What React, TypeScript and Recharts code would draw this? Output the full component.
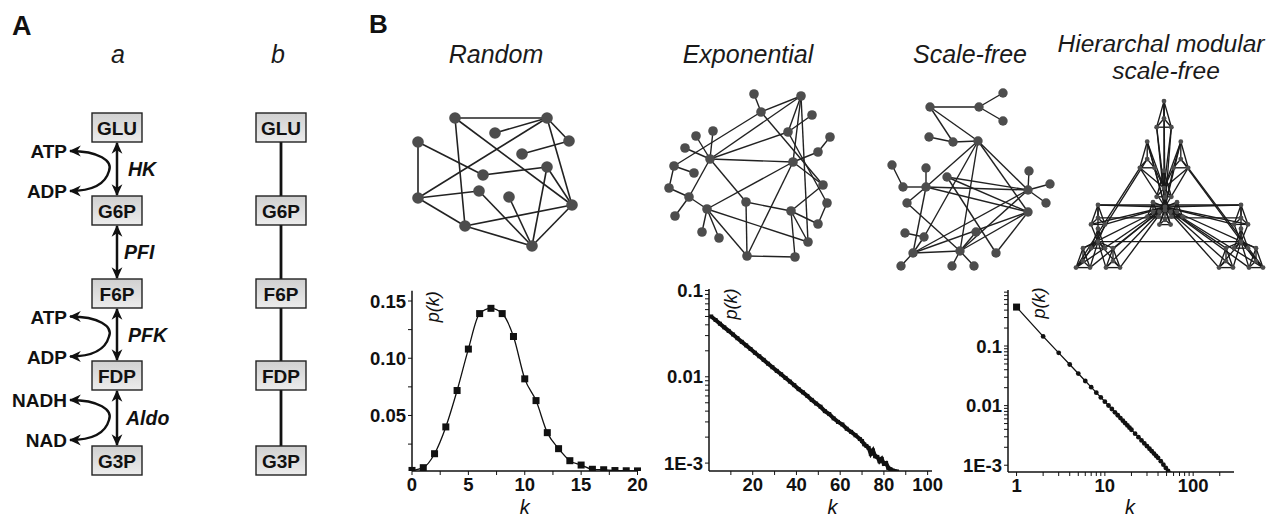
import React from "react";
import {
  LineChart,
  Line,
  XAxis,
  YAxis,
  ScatterChart,
  Scatter,
  ReferenceLine,
  Label,
} from "recharts";

const FONT = '"Liberation Sans", Arial, Helvetica, sans-serif';
const PAGE_W = 1278;
const PAGE_H = 518;

// ---------- degree distributions ----------
const randomK = [0, 1, 2, 3, 4, 5, 6, 7, 8, 9, 10, 11, 12, 13, 14, 15, 16, 17, 18, 19, 20];
const randomP = [
  0.002, 0.0044, 0.0166, 0.04, 0.0718, 0.108, 0.139, 0.1436, 0.139, 0.119, 0.082,
  0.063, 0.035, 0.021, 0.0105, 0.0067, 0.003, 0.0026, 0.0019, 0.0017, 0.0016,
];

const expK = [
  1, 3, 5, 7, 9, 11, 13, 15, 17, 19, 21, 23, 25, 27, 29, 31, 33, 35, 37, 39, 41, 43, 45, 47, 49,
  51, 53, 55, 57, 59, 61, 63, 65, 67, 69, 70, 71, 72, 73, 74, 75, 76, 77, 78, 79, 80, 81, 82, 83,
  84, 86,
];
const expP = [
  0.05, 0.0455, 0.0412, 0.0374, 0.034, 0.0309, 0.028, 0.0254, 0.0231, 0.021, 0.019, 0.0173,
  0.0157, 0.0142, 0.0129, 0.0117, 0.0107, 0.0097, 0.0088, 0.008, 0.0072, 0.0066, 0.006, 0.0054,
  0.0049, 0.0045, 0.004, 0.0037, 0.0033, 0.003, 0.0028, 0.0025, 0.0023, 0.0021, 0.0019, 0.0018,
  0.00165, 0.00158, 0.0015, 0.00128, 0.0014, 0.0012, 0.00118, 0.00105, 0.00112, 0.00098, 0.001,
  0.00088, 0.00085, 0.00082, 0.0008,
];

const sfK = [
  1, 2, 3, 4, 5, 6, 7, 8, 9, 10, 11, 12, 13, 14, 15, 16, 17, 18, 19, 20, 22, 24, 26, 28, 30, 32,
  34, 36, 38, 40, 43, 46, 49, 52, 55,
];
const sfP = [
  0.45, 0.145, 0.0768, 0.049, 0.0345, 0.0259, 0.0204, 0.0165, 0.01375, 0.01166, 0.01005, 0.00877,
  0.00773, 0.00689, 0.00618, 0.00559, 0.00508, 0.00465, 0.00427, 0.00394, 0.00339, 0.00296,
  0.00261, 0.00232, 0.00209, 0.00189, 0.00172, 0.00157, 0.00144, 0.00133, 0.00117, 0.00102,
  0.0009, 0.0008, 0.00072,
];

// ---------- ticks ----------
const randomXTicks = [0, 2.5, 5, 7.5, 10, 12.5, 15, 17.5, 20];
const randomXLabels = ["0", "", "5", "", "10", "", "15", "", "20"];
const randomYTicks = [0.025, 0.05, 0.075, 0.1, 0.125, 0.15];
const randomYLabels = ["", "0.05", "", "0.10", "", "0.15"];

const expXTicks = [10, 20, 30, 40, 50, 60, 70, 80, 90, 100];
const expXLabels = ["", "20", "", "40", "", "60", "", "80", "", "100"];
const logYTicks = [
  0.001, 0.002, 0.003, 0.004, 0.005, 0.006, 0.007, 0.008, 0.009, 0.01, 0.02, 0.03, 0.04, 0.05,
  0.06, 0.07, 0.08, 0.09, 0.1, 0.2, 0.3, 0.4, 0.5, 0.6, 0.7, 0.8,
];
const logYMajor: Record<string, string> = { "0.001": "1E-3", "0.01": "0.01", "0.1": "0.1" };
const sfXTicks = [1, 2, 3, 4, 5, 6, 7, 8, 9, 10, 20, 30, 40, 50, 60, 70, 80, 90, 100, 200];
const sfXMajor: Record<string, string> = { "1": "1", "10": "10", "100": "100" };

// ---------- network drawings (node positions in page pixels) ----------
const randomNodes = [
  { x: 455, y: 118 }, { x: 547, y: 118 }, { x: 495, y: 133 }, { x: 418, y: 142 },
  { x: 569, y: 141 }, { x: 522, y: 154 }, { x: 547, y: 167 }, { x: 483, y: 175 },
  { x: 418, y: 198 }, { x: 479, y: 191 }, { x: 509, y: 197 }, { x: 572, y: 205 },
  { x: 465, y: 226 }, { x: 532, y: 246 },
];
const randomEdges = [
  [0, 1], [0, 12], [0, 11], [2, 1], [1, 8], [1, 11], [1, 4], [3, 8], [3, 7], [7, 6],
  [5, 4], [8, 9], [8, 12], [9, 13], [10, 13], [6, 13], [6, 11], [12, 11], [12, 13], [13, 11],
];

const expNodes = [
  { x: 754, y: 94 }, { x: 801, y: 96 }, { x: 761, y: 112 }, { x: 812, y: 115 },
  { x: 788, y: 132 }, { x: 713, y: 131 }, { x: 696, y: 136 }, { x: 830, y: 137 },
  { x: 685, y: 148 }, { x: 818, y: 152 }, { x: 710, y: 159 }, { x: 793, y: 162 },
  { x: 674, y: 166 }, { x: 694, y: 173 }, { x: 669, y: 188 }, { x: 823, y: 185 },
  { x: 689, y: 197 }, { x: 746, y: 202 }, { x: 827, y: 203 }, { x: 707, y: 209 },
  { x: 791, y: 211 }, { x: 675, y: 216 }, { x: 818, y: 224 }, { x: 702, y: 232 },
  { x: 719, y: 238 }, { x: 808, y: 242 }, { x: 747, y: 256 }, { x: 795, y: 257 },
];
const expEdges = [
  [0, 2], [2, 1], [2, 12], [2, 15], [1, 10], [1, 4], [1, 11], [1, 25], [3, 4], [4, 10],
  [4, 18], [5, 10], [6, 10], [8, 10], [10, 11], [10, 17], [10, 16], [7, 9], [9, 11],
  [11, 19], [11, 26], [11, 15], [12, 13], [12, 14], [14, 16], [16, 21], [16, 19], [19, 23],
  [19, 24], [19, 26], [19, 25], [17, 26], [17, 20], [20, 15], [20, 22], [20, 25], [20, 27],
  [18, 22], [26, 27],
];

const sfNodes = [
  { x: 1003, y: 93 }, { x: 930, y: 107 }, { x: 979, y: 107 }, { x: 1003, y: 121 },
  { x: 929, y: 137 }, { x: 953, y: 142 }, { x: 978, y: 141 }, { x: 892, y: 165 },
  { x: 926, y: 168 }, { x: 947, y: 177 }, { x: 1029, y: 171 }, { x: 1050, y: 184 },
  { x: 903, y: 187 }, { x: 926, y: 187 }, { x: 1028, y: 190 }, { x: 907, y: 203 },
  { x: 1046, y: 203 }, { x: 1028, y: 212 }, { x: 905, y: 233 }, { x: 924, y: 237 },
  { x: 976, y: 232 }, { x: 913, y: 253 }, { x: 960, y: 251 }, { x: 996, y: 253 },
  { x: 901, y: 266 }, { x: 952, y: 266 }, { x: 974, y: 266 },
];
const sfEdges = [
  [1, 2], [2, 0], [2, 3], [1, 5], [1, 6], [4, 5], [5, 6], [6, 13], [6, 19], [6, 22],
  [6, 14], [6, 17], [7, 12], [12, 13], [8, 13], [13, 14], [9, 14], [9, 17], [13, 17],
  [13, 15], [13, 21], [10, 14], [11, 14], [14, 16], [14, 21], [14, 22], [15, 22], [9, 23],
  [18, 19], [21, 24], [21, 22], [21, 17], [22, 25], [22, 26], [22, 20], [22, 17], [23, 17],
  [19, 21],
];

// hierarchical modular network: a 4-node module (centre + 3) repeated on three levels
const hmsHub = { x: 1165, y: 207 };
const hmsModule = [{ dx: 0, dy: 0 }, { dx: 0, dy: -12 }, { dx: -7, dy: 6 }, { dx: 7, dy: 6 }];
const hmsUp = [{ dx: 0, dy: -4 }, { dx: 0, dy: -26 }, { dx: -15, dy: 14 }, { dx: 15, dy: 14 }];
const hmsTower = [{ dx: 0, dy: 18 }, { dx: 0, dy: -30 }, { dx: -16, dy: -2 }, { dx: 16, dy: -2 }];
const hmsCore = [{ dx: 0, dy: 0 }, { dx: 0, dy: 16 }, { dx: -15, dy: 6 }, { dx: 15, dy: 6 }];
const hmsCopies = [
  { dx: 0, dy: 0, sx: 0.8, sy: 0.8, layout: hmsCore },
  { dx: -1, dy: -45, sx: 1.05, sy: 1.45, layout: hmsTower },
  { dx: -67, dy: 39, sx: 1, sy: 1.08, layout: hmsUp },
  { dx: 76, dy: 39, sx: 1, sy: 1.08, layout: hmsUp },
];
// single links between copies: [copy, module, node, copy, module, node]
const hmsBridges = [
  [2, 1, 1, 3, 1, 1],
  [2, 1, 0, 3, 1, 0],
  [2, 0, 0, 3, 0, 0],
  [1, 2, 2, 2, 2, 2],
  [1, 2, 0, 2, 2, 0],
  [1, 3, 3, 3, 3, 3],
  [1, 3, 0, 3, 3, 0],
];

const hmsNodes: { x: number; y: number }[] = [];
hmsCopies.forEach((a) =>
  a.layout.forEach((b) =>
    hmsModule.forEach((c) =>
      hmsNodes.push({
        x: hmsHub.x + a.dx + (b.dx + c.dx) * a.sx,
        y: hmsHub.y + a.dy + (b.dy + c.dy) * a.sy,
      })
    )
  )
);
const hmsIdx = (i: number, j: number, m: number) => i * 16 + j * 4 + m;
const hmsEdges: number[][] = [];
for (let i = 0; i < 4; i++) {
  for (let j = 0; j < 4; j++) {
    for (let m = 0; m < 4; m++)
      for (let n = m + 1; n < 4; n++) hmsEdges.push([hmsIdx(i, j, m), hmsIdx(i, j, n)]);
    if (j > 0) for (let m = 1; m < 4; m++) hmsEdges.push([hmsIdx(i, j, m), hmsIdx(i, 0, 0)]);
  }
  if (i > 0)
    for (let j = 1; j < 4; j++)
      for (let m = 1; m < 4; m++) hmsEdges.push([hmsIdx(i, j, m), hmsIdx(0, 0, 0)]);
}
hmsBridges.forEach(([ia, ja, ma, ib, jb, mb]) => hmsEdges.push([hmsIdx(ia, ja, ma), hmsIdx(ib, jb, mb)]));

// ---------- pathway (panel A) ----------
const metabolites = ["GLU", "G6P", "F6P", "FDP", "G3P"];
const enzymes = ["HK", "PFI", "PFK", "Aldo"];
const cofactors: (string[] | null)[] = [["ATP", "ADP"], null, ["ATP", "ADP"], ["NADH", "NAD"]];

const randomRows = randomK.map((k, i) => ({ k, p: randomP[i] }));
const expRows = expK.map((k, i) => ({ k, p: expP[i] }));
const sfRows = sfK.map((k, i) => ({ k, p: sfP[i] }));

const tickStyle = { fontSize: 18.5, fontWeight: 700, fill: "#111", fontFamily: FONT };
const axisLine = { stroke: "#111", strokeWidth: 1.5 };
const tickLine = { stroke: "#111", strokeWidth: 1 };
const kLabel = { fontSize: 20, fontStyle: "italic", fontFamily: FONT, fill: "#111" };

const PkLabel = (props: any) => {
  const { viewBox, dx, dy } = props;
  if (!viewBox) return null;
  const x = viewBox.x + viewBox.width + dx;
  const y = viewBox.y + dy;
  return (
    <text
      x={x}
      y={y}
      transform={`rotate(-90 ${x} ${y})`}
      textAnchor="middle"
      dominantBaseline="central"
      fontStyle="italic"
      fontSize={18}
      fontFamily={FONT}
      fill="#111"
    >
      p(k)
    </text>
  );
};

const squareDot = (size: number) => (props: any) => {
  const { cx, cy, index } = props;
  if (cx == null || cy == null) return <g key={`s-${index}`} />;
  return (
    <rect key={`s-${index}`} x={cx - size / 2} y={cy - size / 2} width={size} height={size} fill="#111" />
  );
};

const sfDot = (props: any) => {
  const { cx, cy, index } = props;
  if (cx == null || cy == null) return <g key={`f-${index}`} />;
  if (index === 0)
    return <rect key={`f-${index}`} x={cx - 3.5} y={cy - 3.5} width={7} height={7} fill="#111" />;
  return <circle key={`f-${index}`} cx={cx} cy={cy} r={2.4} fill="#111" />;
};

function PathwayAndTitles() {
  const boxTop = [113, 196, 279, 361, 446];
  const boxH = 29;
  const boxW = 50;
  const colA = 92;
  const colB = 256;
  const enzymeX = [128, 124, 128, 126];
  const titleStyle = { fontSize: 25, fontStyle: "italic" as const, fill: "#1a1a1a", fontFamily: FONT };
  const bold = { fontWeight: 700, fontFamily: FONT, fill: "#111" };
  return (
    <svg width={PAGE_W} height={PAGE_H} style={{ position: "absolute", left: 0, top: 0 }}>
      <defs>
        <linearGradient id="boxFill" x1="0" y1="0" x2="0" y2="1">
          <stop offset="0" stopColor="#d0d0d0" />
          <stop offset="1" stopColor="#ececec" />
        </linearGradient>
        <marker
          id="head"
          viewBox="0 0 10 10"
          refX="9"
          refY="5"
          markerWidth="12"
          markerHeight="12"
          markerUnits="userSpaceOnUse"
          orient="auto-start-reverse"
        >
          <path d="M0,0.5 L10,5 L0,9.5 L3,5 z" fill="#111" />
        </marker>
      </defs>

      <text x={12} y={35} fontSize={27} {...bold}>A</text>
      <text x={369} y={33} fontSize={26} {...bold}>B</text>
      <text x={118} y={63} textAnchor="middle" {...titleStyle}>a</text>
      <text x={278} y={63} textAnchor="middle" {...titleStyle}>b</text>

      <text x={496} y={63} textAnchor="middle" {...titleStyle}>Random</text>
      <text x={748} y={63} textAnchor="middle" {...titleStyle}>Exponential</text>
      <text x={970} y={63} textAnchor="middle" {...titleStyle}>Scale-free</text>
      <text x={1161} y={52} textAnchor="middle" {...titleStyle} fontSize={24.5}>Hierarchal modular</text>
      <text x={1166} y={79} textAnchor="middle" {...titleStyle} fontSize={24.5}>scale-free</text>

      {/* column b: plain links */}
      {boxTop.slice(0, -1).map((t, i) => (
        <line key={`bl${i}`} x1={colB + boxW / 2} x2={colB + boxW / 2} y1={t + boxH} y2={boxTop[i + 1]} stroke="#111" strokeWidth={2.8} />
      ))}

      {/* column a: reversible reactions */}
      {enzymes.map((e, i) => {
        const y1 = boxTop[i] + boxH;
        const y2 = boxTop[i + 1];
        const mid = (y1 + y2) / 2;
        const co = cofactors[i];
        const top = mid - 18;
        const bot = mid + 22;
        return (
          <g key={e}>
            <line x1={colA + boxW / 2} x2={colA + boxW / 2} y1={y1 + 1} y2={y2 - 1} stroke="#111" strokeWidth={2.5} markerStart="url(#head)" markerEnd="url(#head)" />
            <text x={enzymeX[i]} y={mid + 7} fontSize={19.5} fontStyle="italic" {...bold}>{e}</text>
            {co && (
              <g>
                <path
                  d={`M 70 ${top} C 99 ${top}, 113 ${mid - 8}, 109 ${mid + 2} C 106 ${mid + 13}, 95 ${bot}, 70 ${bot}`}
                  fill="none"
                  stroke="#111"
                  strokeWidth={2.4}
                  markerStart="url(#head)"
                  markerEnd="url(#head)"
                />
                <text x={67} y={top + 7} textAnchor="end" fontSize={19} {...bold}>{co[0]}</text>
                <text x={67} y={bot + 7} textAnchor="end" fontSize={19} {...bold}>{co[1]}</text>
              </g>
            )}
          </g>
        );
      })}

      {[colA, colB].map((cx) =>
        metabolites.map((m, i) => (
          <g key={`${cx}-${m}`}>
            <rect x={cx} y={boxTop[i]} width={boxW} height={boxH} fill="url(#boxFill)" stroke="#222" strokeWidth={1.4} />
            <text x={cx + boxW / 2} y={boxTop[i] + boxH / 2 + 7} textAnchor="middle" fontSize={19} {...bold}>{m}</text>
          </g>
        ))
      )}
    </svg>
  );
}

function Networks() {
  const edgeLines = (
    nodes: { x: number; y: number }[],
    edges: number[][],
    prefix: string,
    width: number,
    color: string
  ) =>
    edges.map(([a, b], i) => (
      <ReferenceLine
        key={`${prefix}${i}`}
        segment={[
          { x: nodes[a].x, y: nodes[a].y },
          { x: nodes[b].x, y: nodes[b].y },
        ]}
        stroke={color}
        strokeWidth={width}
        ifOverflow="visible"
      />
    ));
  const dot = (r: number, fill: string) => (p: any) => <circle cx={p.cx} cy={p.cy} r={r} fill={fill} />;
  return (
    <div style={{ position: "absolute", left: 0, top: 0 }}>
      <ScatterChart width={PAGE_W} height={PAGE_H} margin={{ top: 0, right: 0, bottom: 0, left: 0 }}>
        <XAxis type="number" dataKey="x" domain={[0, PAGE_W]} hide />
        <YAxis type="number" dataKey="y" domain={[0, PAGE_H]} reversed hide />
        {edgeLines(randomNodes, randomEdges, "r", 1.6, "#222")}
        {edgeLines(expNodes, expEdges, "e", 1.4, "#222")}
        {edgeLines(sfNodes, sfEdges, "s", 1.4, "#222")}
        {edgeLines(hmsNodes, hmsEdges, "h", 1.35, "#1a1a1a")}
        <Scatter data={randomNodes} shape={dot(5.8, "#4d4d4d")} isAnimationActive={false} />
        <Scatter data={expNodes} shape={dot(4.8, "#4d4d4d")} isAnimationActive={false} />
        <Scatter data={sfNodes} shape={dot(4.7, "#4d4d4d")} isAnimationActive={false} />
        <Scatter data={hmsNodes} shape={dot(2.4, "#4d4d4d")} isAnimationActive={false} />
      </ScatterChart>
    </div>
  );
}

function RandomChart() {
  return (
    <div style={{ position: "absolute", left: 340, top: 280 }}>
      <LineChart width={310} height={238} data={randomRows} margin={{ top: 10.7, right: 12.5, bottom: 0, left: 0 }}>
        <XAxis
          dataKey="k"
          type="number"
          domain={[0, 20]}
          ticks={randomXTicks}
          interval={0}
          tickFormatter={(v: number) => randomXLabels[randomXTicks.indexOf(v)] ?? ""}
          height={47}
          tickSize={4}
          tickMargin={3}
          tick={tickStyle}
          axisLine={axisLine}
          tickLine={tickLine}
        >
          <Label value="k" position="insideBottom" offset={4} {...kLabel} />
        </XAxis>
        <YAxis
          type="number"
          domain={[0.0015, 0.159]}
          allowDataOverflow
          ticks={randomYTicks}
          interval={0}
          tickFormatter={(v: number) => randomYLabels[randomYTicks.indexOf(v)] ?? ""}
          width={72}
          tickSize={4}
          tickMargin={2}
          tick={tickStyle}
          axisLine={axisLine}
          tickLine={tickLine}
        >
          <Label content={<PkLabel dx={21} dy={16} />} />
        </YAxis>
        <Line dataKey="p" type="monotone" stroke="#111" strokeWidth={1.3} dot={squareDot(7)} isAnimationActive={false} />
      </LineChart>
    </div>
  );
}

function ExponentialChart() {
  return (
    <div style={{ position: "absolute", left: 640, top: 280 }}>
      <LineChart width={330} height={238} data={expRows} margin={{ top: 9, right: 38, bottom: 0, left: 0 }}>
        <XAxis
          dataKey="k"
          type="number"
          domain={[0, 102]}
          ticks={expXTicks}
          interval={0}
          tickFormatter={(v: number) => expXLabels[expXTicks.indexOf(v)] ?? ""}
          height={47}
          tickSize={4}
          tickMargin={3}
          tick={tickStyle}
          axisLine={axisLine}
          tickLine={tickLine}
        >
          <Label value="k" position="insideBottom" offset={4} dx={12} {...kLabel} />
        </XAxis>
        <YAxis
          type="number"
          scale="log"
          domain={[0.00081, 0.104]}
          allowDataOverflow
          ticks={logYTicks.filter((t) => t <= 0.1)}
          interval={0}
          tickFormatter={(v: number) => logYMajor[String(v)] ?? ""}
          width={69}
          tickSize={4}
          tickMargin={2}
          tick={tickStyle}
          axisLine={axisLine}
          tickLine={tickLine}
        >
          <Label content={<PkLabel dx={22} dy={15} />} />
        </YAxis>
        <Line dataKey="p" type="linear" stroke="#111" strokeWidth={4} dot={squareDot(4)} isAnimationActive={false} />
      </LineChart>
    </div>
  );
}

function ScaleFreeChart() {
  return (
    <div style={{ position: "absolute", left: 940, top: 280 }}>
      <LineChart width={338} height={238} data={sfRows} margin={{ top: 10, right: 44, bottom: 0, left: 0 }}>
        <XAxis
          dataKey="k"
          type="number"
          scale="log"
          domain={[0.8, 290]}
          allowDataOverflow
          ticks={sfXTicks}
          interval={0}
          tickFormatter={(v: number) => sfXMajor[String(v)] ?? ""}
          height={46}
          tickSize={4}
          tickMargin={3}
          tick={tickStyle}
          axisLine={axisLine}
          tickLine={tickLine}
        >
          <Label value="k" position="insideBottom" offset={4} dx={9} {...kLabel} />
        </XAxis>
        <YAxis
          type="number"
          scale="log"
          domain={[0.00077, 0.87]}
          allowDataOverflow
          ticks={logYTicks}
          interval={0}
          tickFormatter={(v: number) => logYMajor[String(v)] ?? ""}
          width={68}
          tickSize={4}
          tickMargin={2}
          tick={tickStyle}
          axisLine={axisLine}
          tickLine={tickLine}
        >
          <Label content={<PkLabel dx={31} dy={13} />} />
        </YAxis>
        <Line dataKey="p" type="linear" stroke="#111" strokeWidth={1.3} dot={sfDot} isAnimationActive={false} />
      </LineChart>
    </div>
  );
}

export default function App() {
  return (
    <div style={{ position: "absolute", left: 0, top: 0, width: PAGE_W, height: PAGE_H, background: "#fff", fontFamily: FONT }}>
      <PathwayAndTitles />
      <Networks />
      <RandomChart />
      <ExponentialChart />
      <ScaleFreeChart />
    </div>
  );
}
